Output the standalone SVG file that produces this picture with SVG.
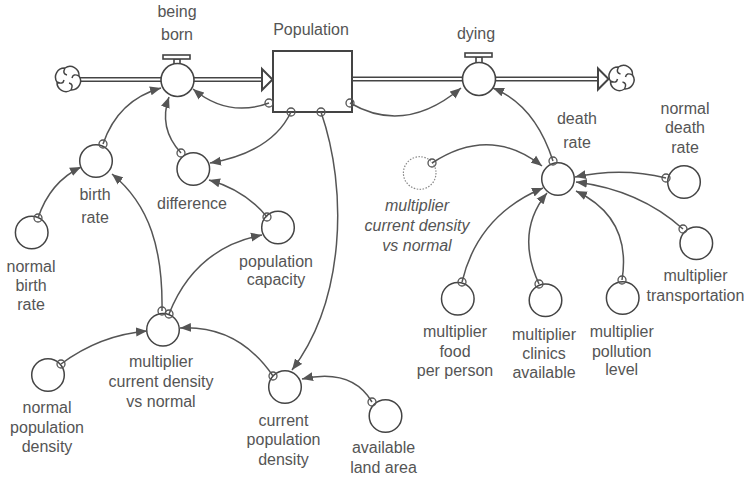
<svg xmlns="http://www.w3.org/2000/svg" width="747" height="477" viewBox="0 0 747 477">
  <defs>
    <style>
      text { font-family: "Liberation Sans", Arial, sans-serif; font-size: 16px; fill: #555; text-anchor: middle; }
      .aux { fill: #fff; stroke: #444; stroke-width: 1.5; }
      .ghost { fill: #fff; stroke: #888; stroke-width: 1.2; stroke-dasharray: 1.5 1.5; }
      .ghostlabel { font-style: italic; }
      .link { fill: none; stroke: #555; stroke-width: 1.5; marker-start: url(#tail); marker-end: url(#head); }
      .pipe-out { fill: none; stroke: #444; stroke-width: 5; }
      .pipe-in { fill: none; stroke: #fff; stroke-width: 2; }
      .stock { fill: #fff; stroke: #444; stroke-width: 2; }
      .valve { fill: #fff; stroke: #444; stroke-width: 1.6; }
      .cloud { fill: #fff; stroke: #444; stroke-width: 1.5; }
      .tip { fill: #fff; stroke: #444; stroke-width: 2; stroke-linejoin: miter; }
    </style>
    <marker id="head" viewBox="0 0 11 10" refX="11" refY="5" markerWidth="11" markerHeight="10" markerUnits="userSpaceOnUse" orient="auto">
      <path d="M0,0.5 L11,5 L0,9.5 Z" fill="#555"/>
    </marker>
    <marker id="tail" viewBox="-6 -6 12 12" refX="0" refY="0" markerWidth="12" markerHeight="12" markerUnits="userSpaceOnUse">
      <circle r="4" fill="none" stroke="#555" stroke-width="1.3"/>
    </marker>
    <path id="cloudShape" d="M-3,-11 A9,9 0 0 1 11,-3 A9,9 0 0 1 3,11 A9,9 0 0 1 -11,3 A9,9 0 0 1 -3,-11 Z M-3,-11 Q-6,-5 -1,-4 M11,-3 Q5,-6 4,-1 M3,11 Q6,5 1,4 M-11,3 Q-5,6 -4,1"/>
  </defs>

  <!-- flow pipes -->
  <g id="pipes">
    <path class="pipe-out" d="M80,79.5 H263"/>
    <path class="pipe-in" d="M80,79.5 H264"/>
    <path class="pipe-out" d="M351,79 H599"/>
    <path class="pipe-in" d="M351,79 H600"/>
    <path class="tip" d="M262,69 L272.5,79.5 L262,90 Z"/>
    <path class="tip" d="M598,68.5 L608.5,79 L598,89.5 Z"/>
  </g>

  <g id="source-cloud">
    <use href="#cloudShape" class="cloud" transform="translate(68,79)"/>
  </g>
  <g id="sink-cloud">
    <use href="#cloudShape" class="cloud" transform="translate(621.5,78)"/>
  </g>

  <g id="Population">
    <rect class="stock" x="273" y="51" width="79" height="61"/>
    <text x="311" y="34.5">Population</text>
  </g>

  <g id="being_born">
    <rect class="valve" x="174" y="59" width="6" height="5"/>
    <rect class="valve" x="163" y="55" width="27" height="4"/>
    <circle class="valve" cx="177.5" cy="80" r="16.5"/>
    <text x="177" y="16.5">being</text>
    <text x="177" y="39.5">born</text>
  </g>

  <g id="dying">
    <rect class="valve" x="476" y="57" width="6" height="6"/>
    <rect class="valve" x="465" y="53" width="27" height="4"/>
    <circle class="valve" cx="479" cy="79" r="16.5"/>
    <text x="476" y="38.5">dying</text>
  </g>

  <g id="birth_rate">
    <circle class="aux" cx="96" cy="161" r="16.3"/>
    <text x="95" y="199.5">birth</text>
    <text x="95" y="222.5">rate</text>
  </g>

  <g id="normal_birth_rate">
    <circle class="aux" cx="31.7" cy="232.5" r="16.3"/>
    <text x="31" y="271.5">normal</text>
    <text x="31" y="291">birth</text>
    <text x="31" y="309.5">rate</text>
  </g>

  <g id="difference">
    <circle class="aux" cx="193.3" cy="169" r="16.3"/>
    <text x="192" y="209">difference</text>
  </g>

  <g id="population_capacity">
    <circle class="aux" cx="278" cy="227.5" r="16.3"/>
    <text x="276" y="266.5">population</text>
    <text x="276" y="285">capacity</text>
  </g>

  <g id="multiplier_current_density_vs_normal">
    <circle class="aux" cx="163" cy="329.7" r="16.3"/>
    <text x="161" y="366.5">multiplier</text>
    <text x="161" y="387">current density</text>
    <text x="161" y="407">vs normal</text>
  </g>

  <g id="normal_population_density">
    <circle class="aux" cx="48" cy="375" r="16.3"/>
    <text x="47" y="413">normal</text>
    <text x="47" y="433">population</text>
    <text x="47" y="452">density</text>
  </g>

  <g id="current_population_density">
    <circle class="aux" cx="285" cy="387" r="16.3"/>
    <text x="283.5" y="425.5">current</text>
    <text x="283.5" y="445">population</text>
    <text x="283.5" y="465">density</text>
  </g>

  <g id="available_land_area">
    <circle class="aux" cx="385.5" cy="416" r="16.3"/>
    <text x="383.5" y="453">available</text>
    <text x="383.5" y="473">land area</text>
  </g>

  <g id="death_rate">
    <circle class="aux" cx="558" cy="179" r="16.3"/>
    <text x="577" y="123.5">death</text>
    <text x="577" y="147.5">rate</text>
  </g>

  <g id="multiplier_current_density_vs_normal_shadow">
    <circle class="ghost" cx="419.7" cy="173" r="16.3"/>
    <text class="ghostlabel" x="417" y="210.5">multiplier</text>
    <text class="ghostlabel" x="417" y="230.5">current density</text>
    <text class="ghostlabel" x="417" y="250.5">vs normal</text>
  </g>

  <g id="normal_death_rate">
    <circle class="aux" cx="684" cy="182" r="16.3"/>
    <text x="685" y="114">normal</text>
    <text x="685" y="133">death</text>
    <text x="685" y="152.5">rate</text>
  </g>

  <g id="multiplier_transportation">
    <circle class="aux" cx="696.3" cy="243.3" r="16.3"/>
    <text x="695.5" y="281">multiplier</text>
    <text x="695.5" y="300.5">transportation</text>
  </g>

  <g id="multiplier_food_per_person">
    <circle class="aux" cx="457.8" cy="298.8" r="16.3"/>
    <text x="455" y="337">multiplier</text>
    <text x="455" y="356.5">food</text>
    <text x="455" y="375.5">per person</text>
  </g>

  <g id="multiplier_clinics_available">
    <circle class="aux" cx="545.5" cy="300.3" r="16.3"/>
    <text x="544" y="339.5">multiplier</text>
    <text x="544" y="359">clinics</text>
    <text x="544" y="378">available</text>
  </g>

  <g id="multiplier_pollution_level">
    <circle class="aux" cx="622.7" cy="298" r="16.3"/>
    <text x="621.7" y="337">multiplier</text>
    <text x="621.7" y="356.5">pollution</text>
    <text x="621.7" y="375">level</text>
  </g>

  <!-- information links -->
  <g id="connectors">
    <path class="link" d="M269,103 Q228,118 193,89"/>
    <path class="link" d="M291,112 Q272,152 210,163"/>
    <path class="link" d="M321,112 C348,190 345,300 292,370"/>
    <path class="link" d="M350,103 Q405,135 461,88"/>
    <path class="link" d="M103,144 Q118,100 161,88"/>
    <path class="link" d="M181,153 Q158,128 169,97"/>
    <path class="link" d="M38,218 Q50,182 81,167"/>
    <path class="link" d="M162,311 C163,250 150,205 112,174"/>
    <path class="link" d="M169,314 Q195,248 262,235"/>
    <path class="link" d="M267,217 Q245,190 209,180"/>
    <path class="link" d="M61,364 Q100,335 147,331"/>
    <path class="link" d="M273,376 Q238,325 180,328"/>
    <path class="link" d="M372,402 Q352,368 302,379"/>
    <path class="link" d="M553,161 Q535,105 493,88"/>
    <path class="link" d="M432,163 Q490,125 542,166"/>
    <path class="link" d="M666,178 Q622,167 575,177"/>
    <path class="link" d="M683,229 Q640,190 576,182"/>
    <path class="link" d="M462,282 Q478,215 543,188"/>
    <path class="link" d="M539,284 Q515,232 547,193"/>
    <path class="link" d="M622,280 Q632,218 576,191"/>
  </g>
</svg>
